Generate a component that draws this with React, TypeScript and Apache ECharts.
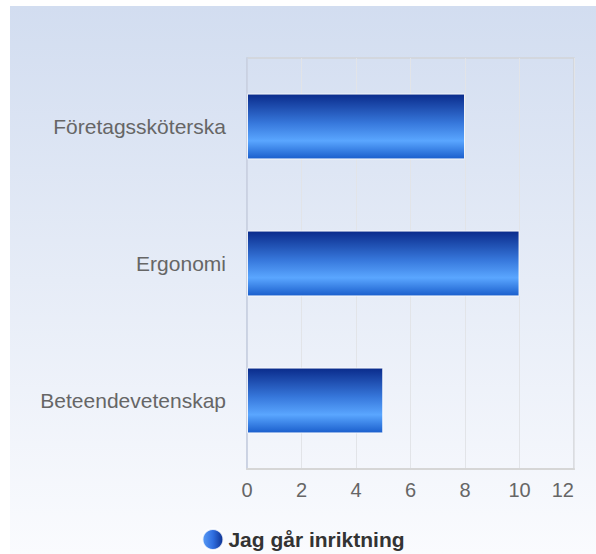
import React, { useEffect, useRef } from "react";
import * as echarts from "echarts";

const categories = ["Företagssköterska", "Ergonomi", "Beteendevetenskap"];
const values = [8, 10, 5];
const seriesName = "Jag går inriktning";
const xMin = 0;
const xMax = 12;
const xInterval = 2;

export default function App() {
  const ref = useRef<HTMLDivElement>(null);
  useEffect(() => {
    if (!ref.current) return;
    const chart = echarts.init(ref.current, null, { renderer: "svg" });
    const barGradient = new echarts.graphic.LinearGradient(0, 0, 0, 1, [
      { offset: 0, color: "#0a2b8b" },
      { offset: 0.45, color: "#3778dc" },
      { offset: 0.72, color: "#5aa6ff" },
      { offset: 1, color: "#1a5ecc" },
    ]);
    const legendGradient = new echarts.graphic.LinearGradient(0, 0, 1, 0, [
      { offset: 0, color: "#5a9cf5" },
      { offset: 0.5, color: "#2f6ee0" },
      { offset: 1, color: "#0c2f8e" },
    ]);
    chart.setOption({
      animation: false,
      backgroundColor: new echarts.graphic.LinearGradient(0, 0, 0, 1, [
        { offset: 0, color: "#d2ddf0" },
        { offset: 1, color: "#fafbfe" },
      ]),
      grid: {
        left: 237,
        top: 52,
        right: 22,
        bottom: 85,
        show: true,
        borderColor: "#d2d4d8",
        borderWidth: 1.5,
      },
      legend: {
        left: "center",
        top: 517,
        padding: 5,
        itemWidth: 21,
        itemHeight: 21,
        itemGap: 10,
        icon: "circle",
        textStyle: {
          fontFamily: "Liberation Sans, Arial, sans-serif",
          fontSize: 21,
          fontWeight: "bold",
          color: "#333",
        },
        data: [{ name: seriesName, itemStyle: { color: legendGradient } }],
      },
      xAxis: {
        type: "value",
        min: xMin,
        max: xMax,
        interval: xInterval,
        axisLine: { show: true, lineStyle: { color: "#d6d6d6", width: 2 } },
        axisTick: { show: false },
        splitLine: { show: true, lineStyle: { color: "#e2e4e8", width: 1 } },
        axisLabel: {
          fontFamily: "Liberation Sans, Arial, sans-serif",
          fontSize: 20,
          color: "#666",
          margin: 11,
          alignMaxLabel: "right",
        },
      },
      yAxis: {
        type: "category",
        data: categories,
        inverse: true,
        axisLine: { show: true, lineStyle: { color: "#c6cfe3", width: 1.5 } },
        axisTick: { show: false },
        axisLabel: {
          fontFamily: "Liberation Sans, Arial, sans-serif",
          fontSize: 21,
          color: "#666",
          margin: 21,
        },
      },
      series: [
        {
          name: seriesName,
          type: "bar",
          data: values,
          barWidth: "48%",
          itemStyle: {
            color: barGradient,
            borderColor: "rgba(255,255,255,0.85)",
            borderWidth: 1,
          },
        },
      ],
    });
    return () => chart.dispose();
  }, []);
  return (
    <div
      style={{
        position: "fixed",
        left: 0,
        top: 0,
        width: 596,
        height: 554,
        background: "#ffffff",
      }}
    >
      <div
        ref={ref}
        style={{ position: "absolute", left: 10, top: 6, width: 586, height: 548 }}
      />
    </div>
  );
}
